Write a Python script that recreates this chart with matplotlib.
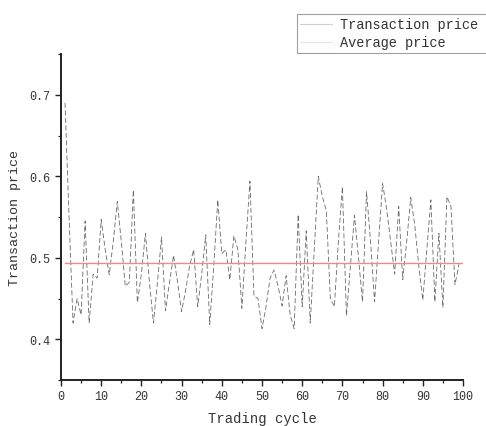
import matplotlib
matplotlib.use("Agg")
import matplotlib.pyplot as plt
from matplotlib.lines import Line2D

# Данные
cycles = list(range(1, 100))
prices = [
    0.690, 0.550, 0.420, 0.450, 0.430, 0.545, 0.420, 0.480, 0.475, 0.547,
    0.510, 0.479, 0.520, 0.569, 0.520, 0.465, 0.470, 0.583, 0.445, 0.480,
    0.530, 0.470, 0.420, 0.470, 0.525, 0.435, 0.470, 0.503, 0.470, 0.434,
    0.460, 0.490, 0.510, 0.440, 0.480, 0.528, 0.418, 0.490, 0.571, 0.505,
    0.510, 0.473, 0.527, 0.510, 0.438, 0.520, 0.594, 0.453, 0.450, 0.413,
    0.440, 0.475, 0.485, 0.465, 0.441, 0.478, 0.430, 0.413, 0.553, 0.440,
    0.533, 0.420, 0.510, 0.600, 0.575, 0.558, 0.450, 0.440, 0.520, 0.587,
    0.429, 0.490, 0.552, 0.500, 0.446, 0.581, 0.520, 0.446, 0.520, 0.591,
    0.560, 0.520, 0.480, 0.563, 0.473, 0.520, 0.574, 0.540, 0.490, 0.448,
    0.510, 0.571, 0.446, 0.530, 0.439, 0.575, 0.563, 0.467, 0.492,
]
avg_price = 0.493
avg_span = [1, 100]

x_ticks = list(range(0, 101, 10))
y_ticks = [0.4, 0.5, 0.6, 0.7]

mono = "Liberation Mono"

fig = plt.figure(figsize=(4.86, 4.27), dpi=100)
ax = fig.add_axes([0.1255, 0.1077, 0.8272, 0.7635])

ax.plot(cycles, prices, color="#6a6a6a", lw=0.6, linestyle=(0, (6, 3)))
ax.plot(avg_span, [avg_price, avg_price], color="#ee8a8a", lw=1.0)

ax.set_xlim(0, 100)
ax.set_ylim(0.35, 0.75)
ax.set_xticks(x_ticks)
ax.set_yticks(y_ticks)
ax.set_xticks(range(5, 100, 10), minor=True)
ax.set_yticks([0.35, 0.45, 0.55, 0.65, 0.75], minor=True)

for s in ["top", "right"]:
    ax.spines[s].set_visible(False)
for s in ["left", "bottom"]:
    ax.spines[s].set_linewidth(1.4)
    ax.spines[s].set_color("#222222")

ax.tick_params(which="major", direction="out", length=4, width=1.0, color="#222222",
               labelsize=8.5, labelcolor="#333333")
ax.tick_params(which="minor", direction="out", length=2.5, width=0.9, color="#222222")
for lab in ax.get_xticklabels() + ax.get_yticklabels():
    lab.set_fontfamily(mono)

ax.set_xlabel("Trading cycle", fontfamily=mono, fontsize=10, color="#333333", labelpad=6)
ax.set_ylabel("Transaction price", fontfamily=mono, fontsize=9.6, color="#333333", labelpad=6)

# легенда уходит за правый край, как в оригинале
handles = [Line2D([], [], color="#cfcfcf", lw=0.8),
           Line2D([], [], color="#f6dede", lw=0.8)]
leg = fig.legend(handles, ["Transaction price", "Average price"],
                 loc="upper left", bbox_to_anchor=(297 / 486, 1 - 15 / 427, 0.45, 0),
                 mode="expand", frameon=True, fancybox=False, borderaxespad=0,
                 borderpad=0.25, labelspacing=0.3, handlelength=2.3, handletextpad=0.6,
                 prop={"family": mono, "size": 9.8})
leg.get_frame().set_edgecolor("#888888")
leg.get_frame().set_linewidth(0.8)
for t in leg.get_texts():
    t.set_color("#333333")

fig.savefig("out.png", dpi=100)
